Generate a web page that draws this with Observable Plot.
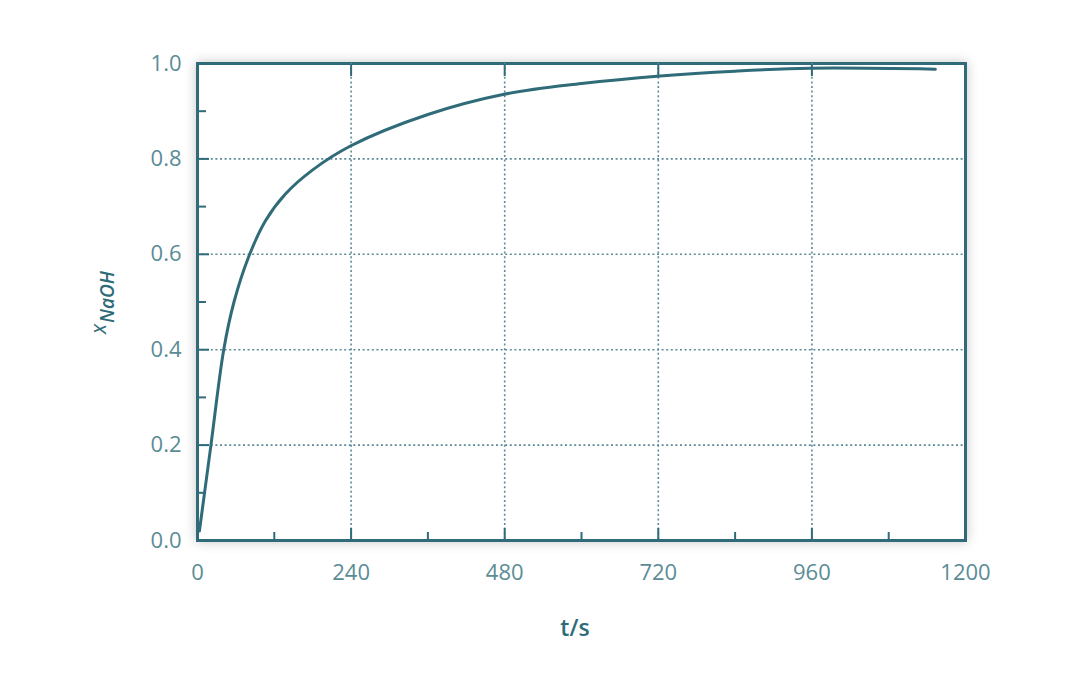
<!DOCTYPE html>
<html>
<head>
<meta charset="utf-8">
<script src="https://cdn.jsdelivr.net/npm/d3@7"></script>
<script src="https://cdn.jsdelivr.net/npm/@observablehq/plot@0.6"></script>
<style>
  html, body { margin: 0; padding: 0; background: #fff; }
  #chart svg { display: block; }
</style>
</head>
<body>
<div id="chart"></div>
<script>
// Data
const times = [3, 21, 41, 57, 80, 106, 137, 179, 239, 360, 481, 600, 723, 840, 958, 1153];
const conversion = [0.02, 0.2, 0.40, 0.50, 0.595, 0.670, 0.726, 0.776, 0.827, 0.893, 0.936, 0.958, 0.974, 0.984, 0.99, 0.988];

const xMajorTicks = [0, 240, 480, 720, 960, 1200];
const xMinorTicks = [120, 360, 600, 840, 1080];
const xGridTicks = [240, 480, 720, 960];
const yMajorTicks = [0, 0.2, 0.4, 0.6, 0.8, 1.0];
const yMinorTicks = [0.1, 0.3, 0.5, 0.7, 0.9];
const yGridTicks = [0.2, 0.4, 0.6, 0.8];

const xLabel = "t/s";
const yLabelMain = "x";
const yLabelSub = "NaOH";

const data = times.map((t, i) => ({t, x: conversion[i]}));

const dark = "#2f6b78";
const light = "#5b8c96";
const font = "'Open Sans', 'Noto Sans', sans-serif";

const chart = Plot.plot({
  width: 1080,
  height: 674,
  marginLeft: 197,
  marginRight: 115,
  marginTop: 63,
  marginBottom: 134,
  style: {fontFamily: font, background: "white", overflow: "visible"},
  x: {domain: [0, 1200], label: null},
  y: {domain: [0, 1], label: null},
  marks: [
    Plot.frame({fill: "white", stroke: dark, strokeWidth: 3}),
    Plot.gridX(xGridTicks, {stroke: light, strokeOpacity: 1, strokeWidth: 1.6, strokeDasharray: "2,2.6"}),
    Plot.gridY(yGridTicks, {stroke: light, strokeOpacity: 1, strokeWidth: 1.6, strokeDasharray: "2,2.6"}),
    // inward ticks
    Plot.axisX(xMajorTicks, {anchor: "bottom", text: null, label: null, tickSize: 12, dy: -12, stroke: dark, strokeWidth: 2}),
    Plot.axisX(xMinorTicks, {anchor: "bottom", text: null, label: null, tickSize: 8, dy: -8, stroke: dark, strokeWidth: 2}),
    Plot.axisX(xMajorTicks, {anchor: "top", text: null, label: null, tickSize: 12, dy: 12, stroke: dark, strokeWidth: 2}),
    Plot.axisY(yMajorTicks, {anchor: "left", text: null, label: null, tickSize: 12, dx: 12, stroke: dark, strokeWidth: 2}),
    Plot.axisY(yMinorTicks, {anchor: "left", text: null, label: null, tickSize: 9, dx: 9, stroke: dark, strokeWidth: 2}),
    // tick labels
    Plot.axisX(xMajorTicks, {anchor: "bottom", tickSize: 0, tickPadding: 24, fontSize: 22, fill: light, label: null, tickFormat: d => String(d)}),
    Plot.axisY(yMajorTicks, {anchor: "left", tickSize: 0, tickPadding: 16, fontSize: 22, fill: light, label: null, tickFormat: d => d.toFixed(1)}),
    // curve
    Plot.line(data, {x: "t", y: "x", stroke: dark, strokeWidth: 3, curve: "catmull-rom"})
  ]
});

document.getElementById("chart").appendChild(chart);

const svg = d3.select(chart);
// soft shadow around the frame
svg.select('[aria-label="frame"]').style("filter", "drop-shadow(0px 0px 6px rgba(0,0,0,0.22))");

// x axis title
svg.append("text")
  .attr("x", 575)
  .attr("y", 636)
  .attr("text-anchor", "middle")
  .attr("font-family", font)
  .attr("font-size", 23)
  .attr("font-weight", 600)
  .attr("fill", dark)
  .text(xLabel);

// y axis title with subscript
const yt = svg.append("text")
  .attr("transform", "translate(106,334) rotate(-90)")
  .attr("text-anchor", "start")
  .attr("font-family", font)
  .attr("font-style", "italic")
  .attr("fill", dark);
yt.append("tspan").attr("font-size", 21).text(yLabelMain);
yt.append("tspan").attr("font-size", 19).attr("dy", 8).attr("dx", 1).attr("font-weight", 600).text(yLabelSub);
</script>
</body>
</html>
